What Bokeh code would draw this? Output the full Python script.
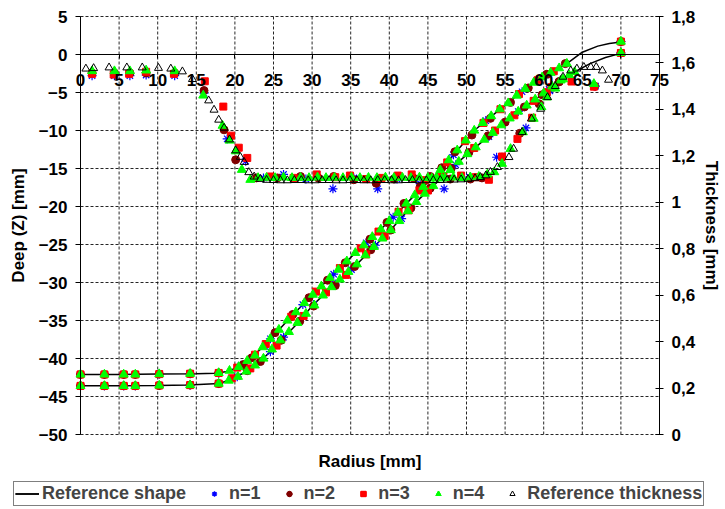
from bokeh.plotting import figure
from bokeh.models import (Range1d, LinearAxis, FixedTicker, CustomJSTickFormatter,
                          Legend, LegendItem, Label)
from bokeh.embed import file_html
from bokeh.resources import INLINE

# ---------------- data ----------------
x_ticks = [0, 5, 10, 15, 20, 25, 30, 35, 40, 45, 50, 55, 60, 65, 70, 75]
y_ticks = [-50, -45, -40, -35, -30, -25, -20, -15, -10, -5, 0, 5]
thk_ticks = [0, 0.2, 0.4, 0.6, 0.8, 1.0, 1.2, 1.4, 1.6, 1.8]

# reference shape (two profiles)
ref_up_x = [0, 5, 10, 15, 17.5, 19, 20.5, 22, 23.5, 25, 27, 29, 31, 33, 35, 37, 39, 41, 43, 45, 47, 49, 51, 53, 55, 57, 59, 61, 63, 65, 67, 68.5, 70]
ref_up_y = [-42.1, -42.1, -42.05, -42.0, -41.95, -41.7, -41.1, -40.0, -38.6, -37.0, -34.8, -32.7, -30.7, -28.7, -26.7, -24.8, -22.9, -20.9, -18.8, -16.8, -14.8, -12.4, -10.0, -8.3, -6.7, -5.0, -3.5, -2.4, -1.2, 0.3, 1.1, 1.45, 1.65]
ref_lo_x = [0, 5, 10, 14, 16, 18, 20, 21.5, 23, 24.5, 26, 28, 30, 32, 34, 36, 38, 40, 42, 44, 46, 48, 50, 52, 54, 56, 58, 60, 62, 64, 66, 68, 70]
ref_lo_y = [-43.6, -43.6, -43.55, -43.5, -43.4, -43.3, -42.5, -41.7, -40.6, -39.2, -37.6, -35.5, -33.1, -31.1, -29.3, -27.4, -25.3, -23.3, -21.0, -18.9, -17.0, -15.0, -13.2, -11.5, -9.7, -8.1, -6.6, -5.1, -3.5, -2.3, -1.2, -0.4, 0.15]

# reference thickness
ref_thk_x = [0.7, 1.7, 3.7, 6.0, 8.0, 10.1, 11.7, 13.2, 14.5, 16.6, 17.3, 17.9, 18.6, 19.3, 20.1,
             20.7, 21.2, 21.8, 22.5, 23.3, 24.1, 25.0, 25.9, 26.8, 27.7, 28.6, 29.5, 30.4, 31.3, 32.2,
             33.1, 34.0, 34.9, 35.8, 36.7, 37.6, 38.5, 39.4, 40.3, 41.2, 42.1, 43.0, 43.9, 44.8, 45.7,
             46.6, 47.5, 48.4, 49.3, 50.2, 51.1, 51.8, 52.5, 53.1, 54.0, 55.5, 56.1, 57.2, 58.4, 59.6,
             60.5, 61.5, 62.5, 63.5, 64.3, 65.2, 66.1, 66.8, 67.6, 68.4]
ref_thk_t = [1.575, 1.577, 1.58, 1.58, 1.58, 1.578, 1.575, 1.563, 1.53, 1.438, 1.398, 1.355, 1.32, 1.27, 1.223,
             1.195, 1.173, 1.129, 1.11, 1.10, 1.096, 1.095, 1.094, 1.094, 1.095, 1.095, 1.094, 1.094, 1.095, 1.095,
             1.094, 1.094, 1.095, 1.095, 1.094, 1.094, 1.095, 1.095, 1.094, 1.094, 1.095, 1.095, 1.094, 1.094, 1.095,
             1.095, 1.096, 1.097, 1.098, 1.10, 1.103, 1.108, 1.115, 1.13, 1.151, 1.194, 1.23, 1.302, 1.36, 1.402,
             1.452, 1.50, 1.54, 1.567, 1.575, 1.582, 1.582, 1.582, 1.567, 1.527]

# n=1 (shape: upper + lower profile; thickness)
n1_sx = [0, 3.1, 5.6, 7.1, 10.2, 14.2, 17.9, 20.8, 24.6, 28.8, 32.8, 37.0, 40.5, 44.2, 48.3, 52.5, 57.2, 60.3, 70,
         0, 3.1, 5.6, 7.1, 10.2, 14.2, 17.9, 20.3, 24.6, 26.3, 30.2, 33.0, 35.1, 38.2, 41.6, 45.1, 48.6, 52.9, 56.7, 60.7, 70]
n1_sy = [-42.1, -42.1, -42.1, -42.1, -42.05, -42.0, -41.9, -40.9, -37.4, -32.9, -28.9, -24.8, -21.4, -17.6, -13.2, -8.7, -4.9, -2.7, 1.7,
         -43.6, -43.6, -43.6, -43.6, -43.55, -43.5, -43.3, -42.4, -39.1, -37.2, -32.9, -30.2, -28.3, -25.1, -21.6, -17.8, -14.5, -10.8, -7.5, -4.6, 0.2]
n1_tx = [1.5, 4.4, 6.4, 8.5, 12.2, 16.0, 19.0, 21.4, 23.7, 26.3, 29.2, 32.7, 35.4, 38.5, 41.0, 44.0, 47.1, 50.4, 53.9, 57.7, 60.8, 66.7]
n1_tt = [1.545, 1.545, 1.545, 1.548, 1.545, 1.47, 1.273, 1.177, 1.105, 1.12, 1.10, 1.058, 1.105, 1.058, 1.10, 1.08, 1.058, 1.108, 1.194, 1.32, 1.48, 1.50]

# n=2
n2_sx = [0, 3.1, 5.6, 7.1, 10.2, 14.2, 17.9, 21.1, 22.2, 25.2, 27.5, 29.6, 32.0, 34.3, 37.5, 39.7, 41.9, 44.0, 46.8, 48.5, 50.7, 53.1, 55.7, 58.0, 60.4, 62.8, 70,
         0, 3.1, 5.6, 7.1, 10.2, 14.2, 17.9, 21.6, 23.3, 26.0, 28.4, 30.2, 33.0, 35.5, 37.6, 40.2, 42.8, 45.3, 48.0, 50.3, 52.8, 55.0, 57.5, 59.8, 62.0, 70]
n2_sy = [-42.1, -42.1, -42.1, -42.1, -42.05, -42.0, -41.9, -40.8, -39.9, -36.6, -34.2, -32.0, -29.7, -27.4, -24.3, -22.1, -19.6, -17.4, -14.9, -12.8, -10.6, -8.4, -6.3, -4.4, -2.6, -1.2, 1.7,
         -43.6, -43.6, -43.6, -43.6, -43.55, -43.5, -43.3, -41.6, -40.4, -37.6, -35.1, -33.1, -30.4, -27.9, -25.7, -23.1, -20.2, -17.6, -15.0, -12.9, -10.7, -8.9, -6.9, -5.3, -3.6, 0.2]
n2_tx = [1.5, 4.4, 6.4, 8.5, 12.2, 16.0, 18.6, 20.1, 22.8, 25.5, 28.5, 30.8, 32.8, 35.4, 38.3, 40.6, 43.1, 45.3, 47.9, 50.5, 52.0, 54.6, 56.9, 59.4, 62.0, 66.6]
n2_tt = [1.557, 1.557, 1.557, 1.557, 1.557, 1.481, 1.312, 1.183, 1.105, 1.105, 1.111, 1.105, 1.111, 1.097, 1.082, 1.10, 1.105, 1.111, 1.10, 1.10, 1.105, 1.194, 1.297, 1.424, 1.52, 1.50]

# n=3
n3_sx = [0, 3.1, 5.6, 7.1, 10.2, 14.2, 17.9, 20.3, 22.6, 24.0, 27.3, 30.5, 33.6, 36.3, 38.6, 41.2, 43.9, 47.5, 49.8, 52.2, 54.4, 56.8, 59.2, 61.3, 70,
         0, 3.1, 5.6, 7.1, 10.2, 14.2, 17.9, 19.6, 22.0, 25.4, 28.9, 31.8, 34.4, 37.0, 39.4, 42.5, 45.0, 47.0, 51.0, 53.7, 56.2, 58.7, 61.0, 70]
n3_sy = [-42.1, -42.1, -42.1, -42.1, -42.05, -42.0, -41.9, -41.2, -39.5, -38.1, -34.5, -31.2, -28.1, -25.5, -23.3, -20.7, -17.9, -14.2, -11.4, -9.0, -7.2, -5.2, -3.4, -2.2, 1.7,
         -43.6, -43.6, -43.6, -43.6, -43.55, -43.5, -43.3, -42.6, -41.3, -38.3, -34.4, -31.3, -29.0, -26.3, -23.9, -20.5, -17.9, -16.0, -12.3, -10.0, -8.0, -6.1, -4.3, 0.2]
n3_tx = [1.5, 4.3, 6.3, 8.5, 12.1, 16.1, 18.5, 19.5, 20.5, 21.6, 24.6, 27.6, 30.6, 33.0, 34.9, 37.0, 39.0, 41.1, 42.9, 44.6, 46.8, 49.3, 51.2, 52.9, 54.6, 56.6, 58.5, 60.4, 63.6, 66.5]
n3_tt = [1.553, 1.55, 1.553, 1.562, 1.553, 1.521, 1.412, 1.287, 1.235, 1.191, 1.111, 1.105, 1.12, 1.108, 1.115, 1.10, 1.105, 1.115, 1.12, 1.095, 1.11, 1.115, 1.108, 1.097, 1.197, 1.273, 1.364, 1.474, 1.52, 1.498]

# n=4
n4_sx = [0, 3.1, 5.6, 7.1, 10.2, 14.2, 17.9, 19.3, 20.5, 21.6, 22.6, 23.6, 24.6, 25.7, 26.8, 27.9, 29.0, 30.1, 31.2, 32.3, 33.4, 34.5, 35.6, 36.7, 37.8,
         38.9, 40.0, 41.1, 42.2, 43.3, 44.4, 45.5, 46.6, 47.7, 48.8, 49.9, 51.0, 52.1, 53.2, 54.3, 55.4, 56.5, 57.6, 58.7, 59.8, 60.9, 62.0, 63.0, 70,
         0, 3.1, 5.6, 7.1, 10.2, 14.2, 17.9, 19.2, 20.4, 21.5, 22.6, 23.7, 24.8, 25.9, 27.0, 28.1, 29.2, 30.3, 31.4, 32.5, 33.6, 34.7, 35.8, 36.9, 38.0,
         39.1, 40.2, 41.3, 42.4, 43.5, 44.6, 45.7, 46.8, 47.9, 49.0, 50.1, 51.2, 52.3, 53.4, 54.5, 55.6, 56.7, 57.8, 58.9, 60.0, 61.1, 62.2, 63.3, 64.0, 70]
n4_sy = [-42.1, -42.1, -42.1, -42.1, -42.05, -42.0, -41.9, -41.6, -41.1, -40.3, -39.6, -38.5, -37.4, -36.2, -35.0, -33.9, -32.7, -31.6, -30.5, -29.4, -28.3, -27.2, -26.1, -25.1, -24.0,
         -23.0, -21.9, -20.8, -19.6, -18.5, -17.4, -16.3, -15.2, -13.9, -12.6, -11.3, -10.0, -9.0, -8.1, -7.2, -6.4, -5.4, -4.5, -3.7, -3.0, -2.4, -1.8, -1.2, 1.7,
         -43.6, -43.6, -43.6, -43.6, -43.55, -43.5, -43.3, -42.9, -42.4, -41.7, -40.9, -40.0, -38.8, -37.6, -36.5, -35.3, -34.1, -33.0, -31.7, -30.6, -29.6, -28.6, -27.6, -26.4, -25.3,
         -24.2, -23.1, -21.9, -20.6, -19.4, -18.3, -17.3, -16.3, -15.2, -14.1, -13.1, -12.2, -11.2, -10.3, -9.3, -8.4, -7.5, -6.7, -5.9, -5.1, -4.2, -3.4, -2.7, -2.3, 0.2]
n4_tx = [1.5, 4.4, 6.4, 8.5, 12.2, 15.9, 18.4, 19.3, 20.1, 20.9, 22.0, 23.0, 24.1, 25.2, 26.3, 27.4, 28.5, 29.6, 30.7, 31.8, 32.9, 34.0, 35.1, 36.2, 37.3,
         38.4, 39.5, 40.6, 41.7, 42.8, 43.9, 45.0, 46.1, 47.2, 48.3, 49.4, 50.5, 51.6, 52.7, 53.6, 54.6, 55.7, 57.3, 58.7, 59.7, 60.4, 61.5, 62.5, 66.5]
n4_tt = [1.565, 1.565, 1.565, 1.568, 1.565, 1.46, 1.33, 1.266, 1.22, 1.14, 1.097, 1.105, 1.106, 1.105, 1.107, 1.105, 1.106, 1.105, 1.107, 1.105, 1.106, 1.105, 1.107, 1.105, 1.106,
         1.105, 1.107, 1.105, 1.106, 1.105, 1.107, 1.105, 1.106, 1.105, 1.107, 1.105, 1.108, 1.11, 1.12, 1.13, 1.166, 1.23, 1.302, 1.36, 1.41, 1.452, 1.49, 1.53, 1.51]

# ---------------- layout constants (pixels) ----------------
W, H = 725, 509
PX_L, PX_R, PX_T, PX_B = 80, 659, 16, 434          # plot area inside the canvas
X0, X1 = x_ticks[0], x_ticks[-1]
Y0, Y1 = y_ticks[0], y_ticks[-1]
T0, T1 = thk_ticks[0], thk_ticks[-1]
sx = (PX_R - PX_L) / (X1 - X0)
sy = (PX_B - PX_T) / (Y1 - Y0)
st = (PX_B - PX_T) / (T1 - T0)
FONT = "Liberation Sans"

p = figure(width=W, height=H, output_backend="svg", toolbar_location=None,
           x_range=Range1d(X0 - PX_L / sx, X1 + (W - PX_R) / sx),
           y_range=Range1d(Y0 - (H - PX_B) / sy, Y1 + PX_T / sy),
           min_border=0, background_fill_color="white", border_fill_color="white")
p.title.visible = False
p.outline_line_color = None
p.xgrid.visible = False
p.ygrid.visible = False
p.extra_y_ranges = {"thk": Range1d(T0 - (H - PX_B) / st, T1 + PX_T / st)}

# dashed grid inside the plot area only
p.segment(x0=x_ticks, y0=[Y0] * len(x_ticks), x1=x_ticks, y1=[Y1] * len(x_ticks),
          line_color="black", line_dash="3 2", line_width=1, line_alpha=0.85)
p.segment(x0=[X0] * len(y_ticks), y0=y_ticks, x1=[X1] * len(y_ticks), y1=y_ticks,
          line_color="black", line_dash="3 2", line_width=1, line_alpha=0.85)

def style_ticks(ax, size="17px"):
    ax.minor_tick_line_color = None
    ax.major_label_text_font = FONT
    ax.major_label_text_font_style = "bold"
    ax.major_label_text_font_size = size
    ax.major_label_text_color = "black"
    ax.axis_line_color = "black"
    ax.major_tick_line_color = "black"
    ax.axis_label_text_font = FONT
    ax.axis_label_text_font_style = "bold"
    ax.axis_label_text_font_size = "17px"
    ax.axis_label_text_color = "black"

# x axis crossing at y = 0
xa = p.xaxis[0]
xa.fixed_location = 0
xa.bounds = (X0, X1)
xa.ticker = FixedTicker(ticks=x_ticks)
style_ticks(xa)
xa.major_tick_in = 0
xa.major_tick_out = 4
xa.major_label_standoff = 15

# left axis at x = 0
ya = p.yaxis[0]
ya.fixed_location = X0
ya.bounds = (Y0, Y1)
ya.ticker = FixedTicker(ticks=y_ticks)
style_ticks(ya)
ya.major_tick_in = 0
ya.major_tick_out = 5
ya.major_label_standoff = 8
ya.axis_label = "Deep (Z) [mm]"
ya.axis_label_standoff = 8

# right axis at x = 75 (thickness)
ra = LinearAxis(y_range_name="thk", ticker=FixedTicker(ticks=thk_ticks),
                formatter=CustomJSTickFormatter(code="return (Math.round(tick*10)/10).toString().replace('.', ',');"))
ra.fixed_location = X1
ra.bounds = (T0, T1)
style_ticks(ra)
ra.major_tick_in = 4
ra.major_tick_out = 4
ra.major_label_standoff = 8
ra.axis_label = "Thickness [mm]"
ra.axis_label_standoff = 4
p.add_layout(ra, "right")

# x axis title
p.add_layout(Label(x=(X0 + X1) / 2, y=Y0 - (461 - PX_B) / sy, text="Radius [mm]",
                   text_align="center", text_baseline="middle", text_font=FONT,
                   text_font_style="bold", text_font_size="17px", text_color="black"))

# ---------------- renderers ----------------
r_ref1 = p.line(ref_up_x, ref_up_y, line_color="black", line_width=1.5)
r_ref2 = p.line(ref_lo_x, ref_lo_y, line_color="black", line_width=1.5)

def series(sx_, sy_, tx, tt, **kw):
    a = p.scatter(sx_, sy_, **kw)
    b = p.scatter(tx, tt, y_range_name="thk", **kw)
    return [a, b]

r1 = series(n1_sx, n1_sy, n1_tx, n1_tt, marker="asterisk", size=9, line_color="#0000FF", line_width=1.2)
r2 = series(n2_sx, n2_sy, n2_tx, n2_tt, marker="circle", size=8, fill_color="#800000", line_color="#800000")
r3 = series(n3_sx, n3_sy, n3_tx, n3_tt, marker="square", size=7, fill_color="#FF0000", line_color="#FF0000")
r4 = series(n4_sx, n4_sy, n4_tx, n4_tt, marker="triangle", size=9, fill_color="#00FF00", line_color="#00FF00")
r5 = p.scatter(ref_thk_x, ref_thk_t, y_range_name="thk", marker="triangle", size=8,
               fill_color=None, line_color="black", line_width=1)

legend = Legend(items=[
    LegendItem(label="Reference shape", renderers=[r_ref1, r_ref2]),
    LegendItem(label="n=1", renderers=r1),
    LegendItem(label="n=2", renderers=r2),
    LegendItem(label="n=3", renderers=r3),
    LegendItem(label="n=4", renderers=r4),
    LegendItem(label="Reference thickness", renderers=[r5]),
], orientation="horizontal", location=(13, 3))
legend.label_text_font = FONT
legend.label_text_font_style = "bold"
legend.label_text_font_size = "18px"
legend.glyph_width = 24
legend.glyph_height = 13
legend.label_standoff = 3
legend.spacing = 16
legend.padding = 1
legend.margin = 0
legend.border_line_color = "black"
legend.border_line_width = 1
legend.background_fill_color = "white"
legend.background_fill_alpha = 1
p.add_layout(legend)

open("out.html", "w").write(file_html(p, INLINE))
